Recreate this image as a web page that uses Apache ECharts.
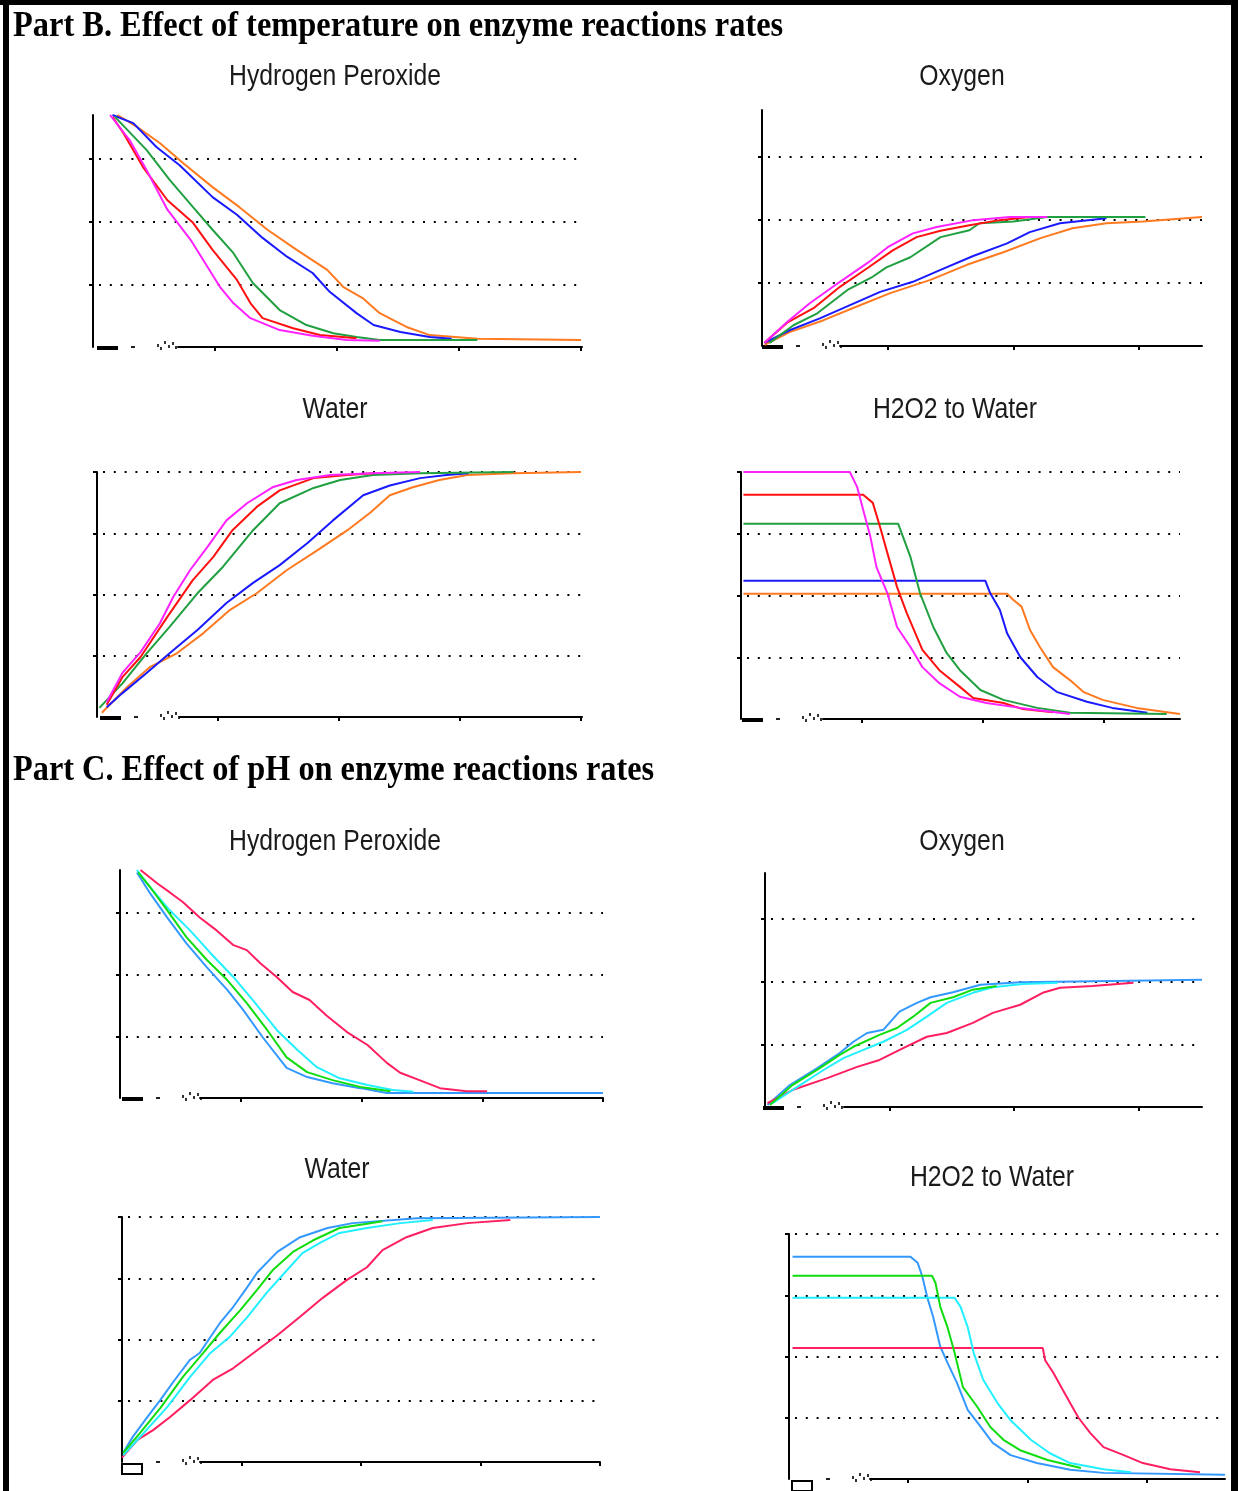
<!DOCTYPE html>
<html>
<head>
<meta charset="utf-8">
<title>Enzyme reaction rates</title>
<script src="https://cdn.jsdelivr.net/npm/echarts@6/dist/echarts.min.js"></script>
<style>
  html, body { margin: 0; padding: 0; background: #fff; }
  #main { width: 1238px; height: 1491px; }
</style>
</head>
<body>
<div id="main"></div>
<script>
// ---- Part B : temperature (time, amount) ----
var bPerMagenta = [[14,370],[30,330],[44,282],[61,219],[80,171],[104,96],[115,70],[129,46],[153,27],[180,18],[208,11],[235,10]];
var bPerRed = [[16,367],[25,341],[41,287],[61,234],[82,198],[98,155],[118,107],[129,70],[139,46],[164,30],[186,19],[216,14]];
var bPerGreen = [[18,367],[44,314],[63,266],[82,223],[98,187],[115,150],[131,102],[153,59],[175,35],[197,22],[216,16],[235,11],[315,11]];
var bPerBlue = [[16,370],[33,357],[52,319],[71,290],[98,239],[118,211],[139,174],[159,144],[180,118],[194,88],[216,54],[230,35],[252,24],[276,16],[294,13]];
var bPerOrange = [[20,370],[36,351],[55,325],[74,293],[98,255],[120,223],[143,187],[167,155],[192,123],[205,96],[221,78],[235,54],[257,32],[276,19],[315,13],[400,11]];

var bOxyMagenta = [[2,5],[20,38],[38,68],[62,102],[84,132],[100,157],[120,179],[139,189],[168,200],[197,205],[227,205]];
var bOxyRed = [[2,5],[20,37],[41,60],[62,94],[84,124],[104,152],[123,173],[142,183],[165,192],[189,200],[213,205]];
var bOxyGreen = [[6,5],[25,33],[44,52],[68,89],[88,110],[99,125],[118,141],[142,173],[165,184],[173,195],[200,198],[227,205],[305,205]];
var bOxyBlue = [[2,5],[22,25],[46,44],[70,65],[94,86],[120,102],[142,121],[168,143],[195,163],[213,181],[237,195],[274,203]];
var bOxyOrange = [[2,2],[22,22],[49,41],[72,60],[102,84],[134,105],[163,129],[192,149],[221,171],[247,187],[274,195],[303,198],[350,205]];

var bWatMagenta = [[8,24],[21,72],[36,106],[52,153],[63,196],[77,240],[91,277],[107,321],[124,349],[145,375],[165,387],[193,395],[228,398],[267,400]];
var bWatRed = [[8,20],[21,65],[36,98],[58,163],[79,223],[96,261],[112,305],[132,343],[151,370],[179,390],[207,395],[228,398]];
var bWatGreen = [[2,15],[21,55],[41,104],[60,147],[83,202],[104,245],[129,305],[151,349],[179,374],[201,387],[228,395],[267,398],[344,400]];
var bWatBlue = [[8,16],[21,39],[41,72],[60,104],[83,142],[107,186],[129,219],[151,248],[174,284],[195,321],[220,362],[242,378],[267,390],[289,395],[307,398]];
var bWatOrange = [[4,7],[25,49],[44,82],[66,104],[88,137],[110,175],[132,202],[157,240],[182,272],[207,305],[226,334],[242,362],[261,375],[283,387],[306,395],[344,398],[400,400]];

var bRatMagenta = [[2,400],[90,400],[96,376],[101,339],[107,295],[112,246],[121,204],[129,149],[140,117],[150,84],[164,58],[181,36],[203,26],[231,18],[272,8]];
var bRatRed = [[2,363],[101,363],[109,350],[115,311],[121,269],[129,214],[137,172],[150,112],[164,79],[181,52],[192,34],[217,26],[233,16],[258,11]];
var bRatGreen = [[2,316],[130,316],[134,295],[140,263],[148,204],[159,149],[170,107],[181,79],[198,47],[217,31],[245,18],[272,10],[352,8]];
var bRatBlue = [[2,224],[202,224],[206,204],[214,177],[220,139],[231,100],[245,68],[261,44],[286,28],[307,18],[336,10]];
var bRatOrange = [[2,203],[220,203],[225,193],[232,182],[239,144],[247,117],[258,84],[272,63],[283,44],[299,31],[327,18],[363,8]];

// ---- Part C : pH ----
var cPerCrimson = [[17,370],[31,348],[41,334],[52,318],[66,293],[80,272],[94,248],[105,240],[116,219],[130,196],[143,172],[157,159],[171,134],[188,107],[205,86],[221,57],[232,41],[248,29],[265,16],[287,11],[304,11]];
var cPerCyan = [[14,370],[25,342],[41,305],[58,272],[75,235],[94,196],[110,159],[130,110],[147,78],[163,50],[182,32],[205,21],[226,13],[243,10]];
var cPerGreen = [[15,366],[25,342],[39,305],[55,261],[72,224],[89,191],[105,154],[122,110],[138,66],[155,42],[176,29],[199,18],[224,11]];
var cPerBlue = [[14,366],[25,332],[39,293],[55,251],[72,212],[89,175],[102,143],[118,99],[138,49],[155,34],[176,24],[199,16],[221,8],[400,8]];

var cOxyBlue = [[2,3],[20,35],[42,62],[60,86],[71,104],[82,118],[95,123],[108,152],[122,166],[133,175],[151,183],[173,195],[205,199],[351,203]];
var cOxyGreen = [[4,3],[22,35],[44,62],[60,83],[71,96],[92,115],[106,126],[119,144],[133,166],[151,175],[167,187],[186,193]];
var cOxyCyan = [[6,6],[26,32],[47,59],[63,78],[79,91],[95,104],[114,123],[130,144],[146,166],[167,182],[183,191],[207,196],[235,198]];
var cOxyCrimson = [[2,6],[22,27],[50,46],[74,64],[92,75],[111,94],[130,112],[146,118],[167,134],[183,150],[205,163],[223,182],[237,190],[263,193],[296,198]];

var cWatBlue = [[1,15],[9,41],[21,73],[32,101],[43,131],[57,167],[65,178],[74,204],[82,227],[93,253],[105,286],[113,309],[130,343],[149,367],[172,382],[193,390],[247,398],[400,400]];
var cWatGreen = [[1,15],[15,47],[32,88],[51,139],[68,178],[82,211],[99,248],[113,281],[126,313],[143,343],[160,362],[182,382],[205,389],[218,393]];
var cWatCyan = [[1,11],[18,47],[38,90],[57,139],[74,178],[90,204],[105,237],[121,276],[138,313],[151,341],[166,358],[182,374],[205,382],[233,390],[260,395]];
var cWatCrimson = [[0,7],[13,36],[26,52],[40,73],[57,101],[76,134],[93,153],[110,178],[130,207],[149,237],[168,268],[188,297],[205,318],[218,346],[238,367],[260,382],[289,390],[325,395]];

var cRatBlue = [[3,363],[102,363],[108,353],[112,330],[116,297],[121,265],[127,216],[133,190],[141,157],[150,113],[161,85],[171,59],[186,39],[208,26],[236,15],[264,10],[366,7]];
var cRatGreen = [[3,332],[120,332],[123,320],[127,281],[133,248],[139,206],[146,150],[158,118],[169,85],[180,64],[194,47],[217,31],[245,18]];
var cRatCyan = [[3,296],[139,296],[144,281],[150,248],[155,206],[163,162],[175,124],[186,96],[203,64],[219,42],[236,26],[264,16],[287,11]];
var cRatCrimson = [[3,214],[213,214],[215,194],[222,173],[230,145],[236,124],[243,100],[253,75],[264,52],[281,39],[297,26],[320,16],[345,11]];

var xTicks4 = [100, 200, 300, 400];
var xTicks3 = [100, 200, 300];
var yTicks3 = [100, 200, 300];
var yTicks4 = [100, 200, 300, 400];

var col = {
  magenta: '#ff22ff', red: '#ff1010', green: '#20a040', blue: '#1a1aff', orange: '#ff7a20',
  crimson: '#ff1f60', cyan: '#22f0ff', lime: '#10dd10', sky: '#3399ff'
};

var bLines = function (m, r, g, b, o) {
  return [[o, col.orange], [b, col.blue], [g, col.green], [r, col.red], [m, col.magenta]];
};
var cLines = function (bl, cr, cy, gr) {
  return [[bl, col.sky], [cr, col.crimson], [cy, col.cyan], [gr, col.lime]];
};

// panel layout: grid box, axis line x, x-baseline span, titles
var panels = [
  {title: 'Hydrogen Peroxide', tx: 335, ty: 77, left: 93, top: 115, width: 488, height: 232, xMax: 400, yMax: 370, xt: xTicks4, yt: yTicks3, ax: 93, l0: 178, l1: 582, g: 97, box: false,
   lines: bLines(bPerMagenta, bPerRed, bPerGreen, bPerBlue, bPerOrange)},
  {title: 'Oxygen', tx: 962, ty: 77, left: 762, top: 110, width: 440, height: 236, xMax: 350, yMax: 375, xt: xTicks3, yt: yTicks3, ax: 760, l0: 840, l1: 1202, g: 762, box: false,
   lines: bLines(bOxyMagenta, bOxyRed, bOxyGreen, bOxyBlue, bOxyOrange)},
  {title: 'Water', tx: 335, ty: 410, left: 97, top: 472, width: 484, height: 245, xMax: 400, yMax: 400, xt: xTicks4, yt: yTicks4, ax: 95, l0: 180, l1: 582, g: 100, box: false,
   lines: bLines(bWatMagenta, bWatRed, bWatGreen, bWatBlue, bWatOrange)},
  {title: 'H2O2 to Water', tx: 955, ty: 410, left: 741, top: 472, width: 439, height: 247, xMax: 363, yMax: 400, xt: xTicks3, yt: yTicks4, ax: 738, l0: 823, l1: 1180, g: 742, box: false,
   lines: bLines(bRatMagenta, bRatRed, bRatGreen, bRatBlue, bRatOrange)},
  {title: 'Hydrogen Peroxide', tx: 335, ty: 842, left: 120, top: 870, width: 483, height: 228, xMax: 400, yMax: 370, xt: xTicks4, yt: yTicks3, ax: 117, l0: 200, l1: 603, g: 122, box: false,
   lines: cLines(cPerBlue, cPerCrimson, cPerCyan, cPerGreen)},
  {title: 'Oxygen', tx: 962, ty: 842, left: 765, top: 873, width: 437, height: 234, xMax: 351, yMax: 373, xt: xTicks3, yt: yTicks3, ax: 762, l0: 844, l1: 1202, g: 763, box: false,
   lines: cLines(cOxyBlue, cOxyCrimson, cOxyCyan, cOxyGreen)},
  {title: 'Water', tx: 337, ty: 1170, left: 122, top: 1217, width: 478, height: 245, xMax: 400, yMax: 400, xt: xTicks4, yt: yTicks4, ax: 117, l0: 200, l1: 600, g: 122, box: true,
   lines: cLines(cWatBlue, cWatCrimson, cWatCyan, cWatGreen)},
  {title: 'H2O2 to Water', tx: 992, ty: 1178, left: 789, top: 1234, width: 436, height: 245, xMax: 366, yMax: 400, xt: xTicks3, yt: yTicks4, ax: 785, l0: 870, l1: 1225, g: 792, box: true,
   lines: cLines(cRatBlue, cRatCrimson, cRatCyan, cRatGreen)}
];

var grid = [], xAxis = [], yAxis = [], series = [], graphic = [];
var titleFont = "30px 'Liberation Sans', Arial, sans-serif";
var headFont = "bold 32px 'Liberation Serif', 'DejaVu Serif', serif";

panels.forEach(function (p) {
  var gi = grid.length;
  var base = p.top + p.height;
  grid.push({left: p.left, top: p.top, width: p.width, height: p.height});
  xAxis.push({
    type: 'value', gridIndex: gi, min: 0, max: p.xMax, interval: 100,
    axisLine: {show: false},
    axisTick: {show: true, length: 4, customValues: p.xt, lineStyle: {color: '#000', width: 2}},
    axisLabel: {show: false}, splitLine: {show: false}
  });
  yAxis.push({
    type: 'value', gridIndex: gi, min: 0, max: p.yMax, interval: 100, offset: p.left - p.ax,
    axisLine: {show: true, lineStyle: {color: '#000', width: 2}},
    axisTick: {show: true, length: 4, customValues: p.yt, lineStyle: {color: '#000', width: 2}},
    axisLabel: {show: false},
    splitLine: {show: true, showMinLine: true, showMaxLine: true,
      lineStyle: {color: '#000', width: 2, type: [2, 8.8], dashOffset: -6}}
  });
  p.lines.forEach(function (ln) {
    series.push({
      type: 'line', xAxisIndex: gi, yAxisIndex: gi, data: ln[0],
      showSymbol: false, symbol: 'none', smooth: false,
      lineStyle: {color: ln[1], width: 2}, itemStyle: {color: ln[1]},
      silent: true, animation: false
    });
  });
  // partial x baseline (the original axis starts right of the stray glyphs)
  var bi = grid.length;
  grid.push({left: p.l0, top: base - 1, width: p.l1 - p.l0, height: 1});
  xAxis.push({type: 'value', gridIndex: bi, min: 0, max: 1,
    axisLine: {show: true, lineStyle: {color: '#000', width: 2}},
    axisTick: {show: false}, axisLabel: {show: false}, splitLine: {show: false}});
  yAxis.push({type: 'value', gridIndex: bi, min: 0, max: 1, show: false});

  graphic.push({type: 'text', x: p.tx, y: p.ty, scaleX: 0.825,
    style: {text: p.title, x: 0, y: 0, font: titleFont, fill: '#1a1a1a', align: 'center', verticalAlign: 'middle', textAlign: 'center', textVerticalAlign: 'middle'}});
  // stray glyphs under the origin
  if (p.box) {
    graphic.push({type: 'rect', shape: {x: p.g, y: base + 2, width: 20, height: 10}, style: {fill: 'none', stroke: '#000', lineWidth: 2}});
  } else {
    graphic.push({type: 'rect', shape: {x: p.g, y: base - 1, width: 21, height: 4}, style: {fill: '#000'}});
  }
  graphic.push({type: 'rect', shape: {x: p.g + 34, y: base - 1, width: 4, height: 2}, style: {fill: '#222'}});
  [[60, -3], [63, 0], [67, -6], [71, -2], [75, -5], [78, -1]].forEach(function (d) {
    graphic.push({type: 'rect', shape: {x: p.g + d[0], y: base + d[1], width: 2, height: 3}, style: {fill: '#333'}});
  });
});

graphic.push({type: 'text', x: 13, y: 27, scaleX: 1.013, scaleY: 1.12,
  style: {text: 'Part B. Effect of temperature on enzyme reactions rates', x: 0, y: 0, font: headFont, fill: '#000', align: 'left', verticalAlign: 'middle', textAlign: 'left', textVerticalAlign: 'middle'}});
graphic.push({type: 'text', x: 13, y: 771, scaleX: 1.01, scaleY: 1.12,
  style: {text: 'Part C. Effect of pH on enzyme reactions rates', x: 0, y: 0, font: headFont, fill: '#000', align: 'left', verticalAlign: 'middle', textAlign: 'left', textVerticalAlign: 'middle'}});
// page frame
graphic.push({type: 'rect', shape: {x: 0, y: 0, width: 1238, height: 5}, style: {fill: '#000'}});
graphic.push({type: 'rect', shape: {x: 3, y: 0, width: 6, height: 1491}, style: {fill: '#000'}});
graphic.push({type: 'rect', shape: {x: 1231, y: 0, width: 7, height: 1491}, style: {fill: '#000'}});

var myChart = echarts.init(document.getElementById('main'));
var option = {
  backgroundColor: '#fff',
  animation: false,
  grid: grid,
  xAxis: xAxis,
  yAxis: yAxis,
  series: series,
  graphic: graphic
};
myChart.setOption(option);
</script>
</body>
</html>
